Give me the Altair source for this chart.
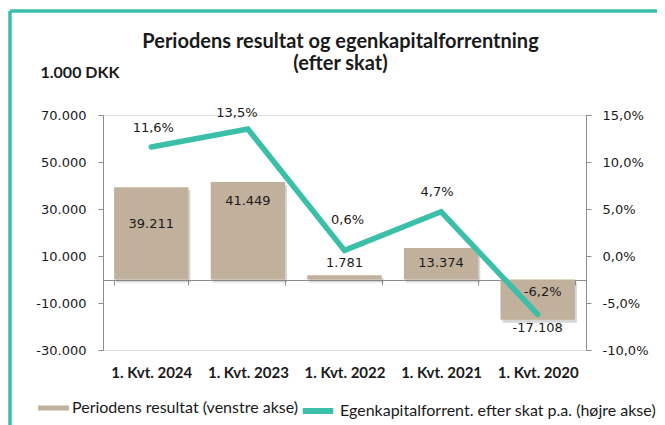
import altair as alt
import pandas as pd

categories = ["1. Kvt. 2024", "1. Kvt. 2023", "1. Kvt. 2022", "1. Kvt. 2021", "1. Kvt. 2020"]
result = [39211, 41449, 1781, 13374, -17108]
roe = [11.6, 13.5, 0.6, 4.7, -6.2]
left_ticks = [-30000, -10000, 10000, 30000, 50000, 70000]
right_ticks = [-10, -5, 0, 5, 10, 15]
series = ["Periodens resultat (venstre akse)", "Egenkapitalforrent. efter skat p.a. (højre akse)"]

df = pd.DataFrame({"cat": categories, "result": result, "roe": roe})

TAN = "#C1B09B"
TEAL = "#3CBFA9"
AXC = "#8C8C8C"
TXT = "#1A1A1A"

base = alt.Chart(df)

x_enc = alt.X(
    "cat:N", sort=categories,
    scale=alt.Scale(paddingInner=0.23, paddingOuter=0.115),
    axis=alt.Axis(title=None, orient="bottom", offset=-70, domainColor=AXC, tickColor=AXC,
                  tickSize=5, tickBand="extent", labelPadding=80, labelFont="Lato",
                  labelFontSize=15, labelFontWeight="bold", labelColor=TXT, labelAngle=0),
)
yl = alt.Y(
    "result:Q",
    scale=alt.Scale(domain=[-30000, 70000], nice=False, zero=False),
    axis=alt.Axis(values=left_ticks, format=",.0f", grid=False, domainColor=AXC, tickColor=AXC,
                  tickSize=5, labelPadding=12, labelFont="DejaVu Sans", labelFontSize=13,
                  labelColor=TXT, title="1.000 DKK", titleAngle=0, titleX=-63, titleY=-43,
                  titleAlign="left", titleBaseline="middle", titleFont="Lato",
                  titleFontSize=16, titleFontWeight="bold", titleColor=TXT),
)
yr = alt.Y(
    "roe:Q",
    scale=alt.Scale(domain=[-10, 15], nice=False, zero=False),
    axis=alt.Axis(orient="right", values=right_ticks, labelExpr="format(datum.value, '.1f') + '%'",
                  grid=False, domainColor=AXC, tickColor=AXC, tickSize=5, labelPadding=11,
                  labelFont="DejaVu Sans", labelFontSize=13, labelColor=TXT, title=None),
)

legend_common = dict(title=None, orient="none", direction="horizontal", symbolSize=1296,
                     labelFont="Lato", labelFontSize=16, labelColor=TXT, labelLimit=500,
                     padding=0, symbolOpacity=1)
legend_bar = alt.Legend(legendX=-70, legendY=275, symbolType="M-0.72,-0.14H1V0.14H-0.72Z",
                        symbolFillColor=TAN, symbolStrokeWidth=0, labelOffset=3, **legend_common)
legend_line = alt.Legend(legendX=194, legendY=275, symbolType="M-0.85,0H0.85",
                         symbolStrokeColor=TEAL, symbolStrokeWidth=6, labelOffset=1, **legend_common)

shadow = base.mark_bar(color="#7A7A7A", opacity=0.3, xOffset=2, yOffset=3).encode(x=x_enc, y=yl)
bars = base.transform_calculate(s="'%s'" % series[0]).mark_bar().encode(
    x=x_enc, y=yl,
    fill=alt.Fill("s:N", scale=alt.Scale(domain=[series[0]], range=[TAN]), legend=legend_bar),
)

bar_offsets = {"1. Kvt. 2024": 37, "1. Kvt. 2023": 19, "1. Kvt. 2022": -12,
               "1. Kvt. 2021": 15, "1. Kvt. 2020": 8}
bar_labels = [
    base.transform_filter(alt.datum.cat == c)
    .mark_text(font="DejaVu Sans", fontSize=13, color=TXT, dy=d)
    .encode(x=x_enc, y=yl, text=alt.Text("result:Q", format=",.0f"))
    for c, d in bar_offsets.items()
]

line = base.transform_calculate(s="'%s'" % series[1]).mark_line(
    strokeWidth=5.5, strokeCap="round", strokeJoin="miter").encode(
    x=x_enc, y=yr,
    stroke=alt.Stroke("s:N", scale=alt.Scale(domain=[series[1]], range=[TEAL]), legend=legend_line),
)
line_offsets = {"1. Kvt. 2024": (2, -19), "1. Kvt. 2023": (-11, -16), "1. Kvt. 2022": (3, -30),
                "1. Kvt. 2021": (-4, -20), "1. Kvt. 2020": (5, -22)}
line_labels = [
    base.transform_filter(alt.datum.cat == c)
    .transform_calculate(lab="format(datum.roe, '.1f') + '%'")
    .mark_text(font="DejaVu Sans", fontSize=13, color=TXT, dx=dx, dy=dy)
    .encode(x=x_enc, y=yr, text="lab:N")
    for c, (dx, dy) in line_offsets.items()
]

frame_left = base.mark_rule(color=TEAL, strokeWidth=2.5).encode(
    x=alt.value(-93), y=alt.value(-104), y2=alt.value(320))
frame_top = base.mark_rule(color=TEAL, strokeWidth=2.5).encode(
    x=alt.value(-93), x2=alt.value(600), y=alt.value(-104))

left = alt.layer(shadow, bars, *bar_labels)
right = alt.layer(line, *line_labels)

chart = alt.layer(left, right, frame_left, frame_top).resolve_scale(y="independent").properties(
    width=483, height=235,
    autosize=alt.AutoSizeParams(type="none"),
    padding={"left": 95, "top": 107, "right": 71, "bottom": 75},
    title=alt.TitleParams(
        text=["Periodens resultat og egenkapitalforrentning", "(efter skat)"],
        font="Lato", fontSize=20, fontWeight="bold", color=TXT, anchor="middle",
        offset=-64, lineHeight=22, dx=-4,
    ),
).configure_view(stroke=None).configure(
    locale={"number": {"decimal": ",", "thousands": ".", "grouping": [3],
                       "currency": ["", " kr."], "minus": "-"}}
)

chart.save("out.html", embed_options={"renderer": "svg", "actions": False})
